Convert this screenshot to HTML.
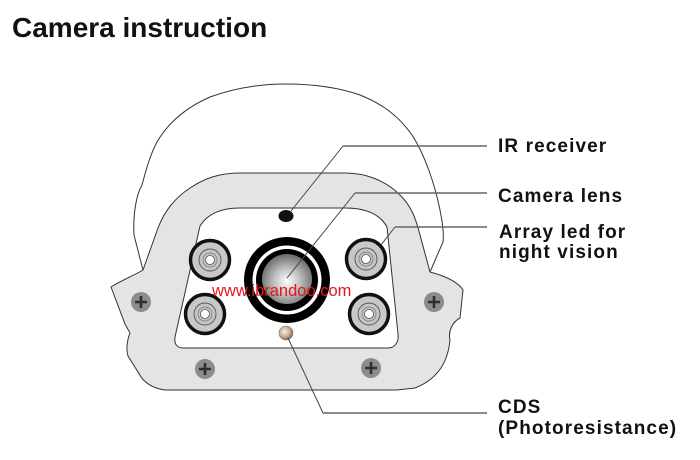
<!DOCTYPE html>
<html><head><meta charset="utf-8"><style>
html,body{margin:0;padding:0;background:#fff;}
svg{display:block;}
.lbl{font-family:"Liberation Sans",Arial,sans-serif;font-weight:bold;font-size:19px;letter-spacing:1.1px;fill:#111;}
</style></head><body>
<svg width="700" height="460" viewBox="0 0 700 460" xmlns="http://www.w3.org/2000/svg">
<defs>
<radialGradient id="sph" cx="0.5" cy="0.55" r="0.55">
<stop offset="0" stop-color="#ffffff"/>
<stop offset="0.45" stop-color="#c4c4c4"/>
<stop offset="1" stop-color="#6a6a6a"/>
</radialGradient>
<radialGradient id="cds" cx="0.4" cy="0.4" r="0.6">
<stop offset="0" stop-color="#f6efe6"/>
<stop offset="0.6" stop-color="#c9b096"/>
<stop offset="1" stop-color="#8a6c50"/>
</radialGradient>
</defs>
<text x="12" y="37" font-family="Liberation Sans, Arial, sans-serif" font-weight="bold" font-size="28" fill="#111">Camera instruction</text>

<!-- dome -->
<path d="M143,270 L134,235 C133,215 136,195 142,185 C146,170 150,155 157,142 C168,123 185,108 210,97 C235,88 260,84 285,84 C315,84 340,88 360,95 C385,105 400,118 412,135 C425,155 435,185 440,210 C443,225 444,235 443,242 L430,272" fill="#fff" stroke="#333" stroke-width="1"/>

<!-- plate -->
<path d="M143,270 L158,228 C165,210 175,198 190,188 C205,178 220,173 240,173 L345,173 C365,173 385,180 400,195 C410,205 415,215 420,235 L430,272 C445,276 458,282 463,290 L460,318 C452,322 448,332 450,340 C448,360 440,378 415,388 L397,390 L165,390 C150,388 142,380 138,372 L128,356 C126,350 127,340 130,333 L125,324 L111,287 C122,280 135,275 143,270 Z" fill="#e4e4e4" stroke="#333" stroke-width="1"/>

<!-- window -->
<path d="M200,226 C208,213 222,208 240,208 L345,208 C365,208 380,214 387,227 L398,334 C399,342 395,348 388,348 L183,348 C177,348 174,344 175,337 Z" fill="#fff" stroke="#333" stroke-width="1"/>

<!-- screws -->
<g fill="#8c8c8c">
<circle cx="141" cy="302" r="10"/><circle cx="434" cy="302" r="10"/>
<circle cx="205" cy="369" r="10"/><circle cx="371" cy="368" r="10"/>
</g>
<g stroke="#2e2e2e" stroke-width="2.6">
<path d="M135,302h12M141,296v12"/><path d="M428,302h12M434,296v12"/>
<path d="M199,369h12M205,363v12"/><path d="M365,368h12M371,362v12"/>
</g>

<!-- LEDs -->
<g>
<g transform="translate(210,260)"><circle r="19.5" fill="#c8c8c8" stroke="#111" stroke-width="3.5"/><circle r="11" fill="#c4c4c4" stroke="#555" stroke-width="0.9"/><circle r="7" fill="none" stroke="#777" stroke-width="0.7"/><circle r="4.5" fill="#fff" stroke="#555" stroke-width="0.8"/></g>
<g transform="translate(366,259)"><circle r="19.5" fill="#c8c8c8" stroke="#111" stroke-width="3.5"/><circle r="11" fill="#c4c4c4" stroke="#555" stroke-width="0.9"/><circle r="7" fill="none" stroke="#777" stroke-width="0.7"/><circle r="4.5" fill="#fff" stroke="#555" stroke-width="0.8"/></g>
<g transform="translate(205,314)"><circle r="19.5" fill="#c8c8c8" stroke="#111" stroke-width="3.5"/><circle r="11" fill="#c4c4c4" stroke="#555" stroke-width="0.9"/><circle r="7" fill="none" stroke="#777" stroke-width="0.7"/><circle r="4.5" fill="#fff" stroke="#555" stroke-width="0.8"/></g>
<g transform="translate(369,314)"><circle r="19.5" fill="#c8c8c8" stroke="#111" stroke-width="3.5"/><circle r="11" fill="#c4c4c4" stroke="#555" stroke-width="0.9"/><circle r="7" fill="none" stroke="#777" stroke-width="0.7"/><circle r="4.5" fill="#fff" stroke="#555" stroke-width="0.8"/></g>
</g>

<!-- lens -->
<circle cx="287" cy="280" r="43" fill="#000"/>
<circle cx="287" cy="280" r="34.5" fill="#fff"/>
<circle cx="287" cy="280" r="31" fill="#000"/>
<circle cx="287" cy="279" r="25" fill="url(#sph)"/>

<!-- IR receiver dot & CDS -->
<ellipse cx="286" cy="216" rx="7.5" ry="6" fill="#111"/>
<circle cx="286" cy="333" r="7" fill="url(#cds)" stroke="#777" stroke-width="0.6"/>

<!-- leaders -->
<g fill="none" stroke="#444" stroke-width="1">
<path d="M291,211 L343,146"/>
<path d="M287,278 L355,193"/>
<path d="M381,245 L395,227"/>
<path d="M288,338 L323,413"/>
</g>
<g fill="none" stroke="#666" stroke-width="1.6">
<path d="M343,146 H487"/>
<path d="M355,193 H487"/>
<path d="M395,227 H487"/>
<path d="M323,413 H487"/>
</g>

<!-- watermark -->
<text x="212" y="296" font-family="Liberation Sans, Arial, sans-serif" font-size="16.5" fill="#e5161e">www.ibrandoo.com</text>

<!-- labels -->
<text class="lbl" x="498" y="152">IR receiver</text>
<text class="lbl" x="498" y="202">Camera lens</text>
<text class="lbl" x="499" y="238">Array led for</text>
<text class="lbl" x="499" y="258">night vision</text>
<text class="lbl" x="498" y="413">CDS</text>
<text class="lbl" x="498" y="434">(Photoresistance)</text>
</svg>
</body></html>
